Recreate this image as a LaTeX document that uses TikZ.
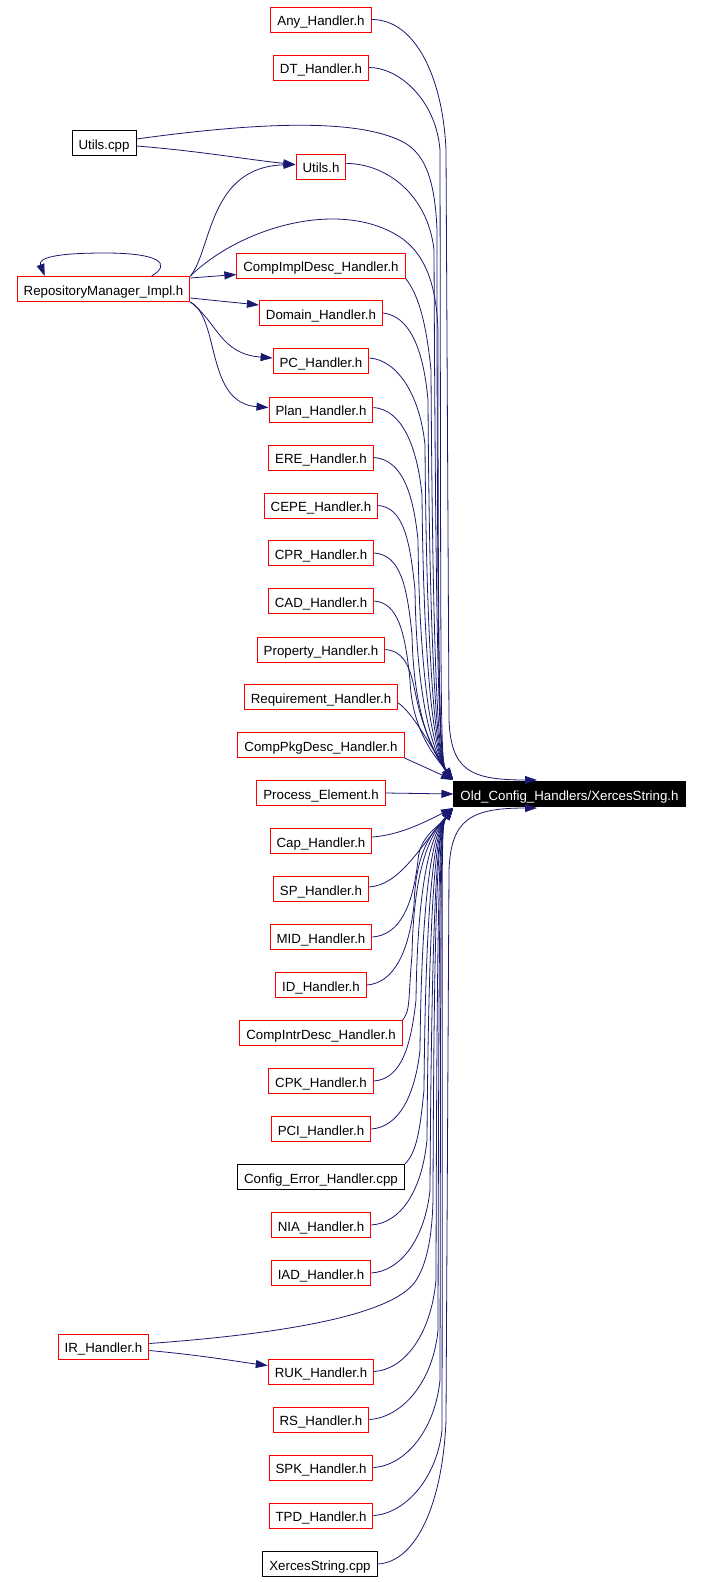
\documentclass[tikz,border=0pt]{standalone}
\usepackage{fontspec}
\setmainfont{Liberation Sans}
\usetikzlibrary{arrows.meta,calc}
\definecolor{edgeblue}{HTML}{191970}
\begin{document}
\begin{tikzpicture}[x=1pt,y=-1pt,
  box/.style={draw=red, fill=white, line width=1pt, inner xsep=6.5pt, inner ysep=3pt,
    minimum height=25pt, text height=12pt, text depth=0pt,
    font=\fontsize{13.3pt}{15pt}\selectfont},
  filebox/.style={box, draw=black},
  mainbox/.style={box, draw=black, fill=black, text=white},
  dep/.style={draw=edgeblue, line width=0.8pt, -{Triangle[length=12pt,width=8pt]}}]
\useasboundingbox (0,0) rectangle (702,1582);
% nodes
\node[box] (Any) at (321,19.5) {Any\_Handler.h};
\node[box] (DT) at (321,67.5) {DT\_Handler.h};
\node[filebox] (Ucpp) at (104,143) {Utils.cpp};
\node[box] (Uh) at (321,166.5) {Utils.h};
\node[box] (RM) at (103.5,289) {RepositoryManager\_Impl.h};
\node[box] (CID) at (321,265.5) {CompImplDesc\_Handler.h};
\node[box] (Dom) at (321,313) {Domain\_Handler.h};
\node[box] (PC) at (321,361) {PC\_Handler.h};
\node[box] (Plan) at (321,409.5) {Plan\_Handler.h};
\node[box] (ERE) at (321,457.5) {ERE\_Handler.h};
\node[box] (CEPE) at (321,505.5) {CEPE\_Handler.h};
\node[box] (CPR) at (321,553) {CPR\_Handler.h};
\node[box] (CAD) at (321,601) {CAD\_Handler.h};
\node[box] (Prop) at (321,649.5) {Property\_Handler.h};
\node[box] (Req) at (321,697) {Requirement\_Handler.h};
\node[box] (CPD) at (321,745) {CompPkgDesc\_Handler.h};
\node[box] (PE) at (321,793) {Process\_Element.h};
\node[mainbox] (XS) at (569.5,794) {Old\_Config\_Handlers/XercesString.h};
\node[box] (Cap) at (321,841) {Cap\_Handler.h};
\node[box] (SP) at (321,889) {SP\_Handler.h};
\node[box] (MID) at (321,937) {MID\_Handler.h};
\node[box] (ID) at (321,985) {ID\_Handler.h};
\node[box] (CIDD) at (321,1033) {CompIntrDesc\_Handler.h};
\node[box] (CPK) at (321,1081) {CPK\_Handler.h};
\node[box] (PCI) at (321,1129) {PCI\_Handler.h};
\node[filebox] (CEH) at (321,1177) {Config\_Error\_Handler.cpp};
\node[box] (NIA) at (321,1225) {NIA\_Handler.h};
\node[box] (IAD) at (321,1273) {IAD\_Handler.h};
\node[box] (IR) at (103.5,1346.5) {IR\_Handler.h};
\node[box] (RUK) at (321,1371.5) {RUK\_Handler.h};
\node[box] (RS) at (321,1419.5) {RS\_Handler.h};
\node[box] (SPK) at (321,1467.5) {SPK\_Handler.h};
\node[box] (TPD) at (321,1515.5) {TPD\_Handler.h};
\node[filebox] (XCpp) at (320,1564) {XercesString.cpp};
% tip coordinates
\coordinate (tT) at (453,780);
\coordinate (tB) at (453,808);
\coordinate (wT) at (537,780);
\coordinate (wB) at (537,808);
% edges into XercesString.h from above
\draw[dep] (Any.east) .. controls +(45,0) and (443,80) .. (446,150) -- (449,720) .. controls (451,770) and (470,780) .. (wT);
\draw[dep] (DT.east) .. controls +(30,0) and (436,100) .. (440,150) .. controls (441,720) and (440,762) .. (tT);
\draw[dep] ([yshift=4pt]Ucpp.east) .. controls (260,122) and (360,118) .. (405,143) .. controls (425,155) and (435,180) .. (437,230) .. controls (437,720) and (440,762) .. (tT);
\draw[dep] ([yshift=3pt]Uh.east) .. controls +(40,0) and (428,195) .. (434,250) .. controls (436,720) and (440,762) .. (tT);
\draw[dep] (RM.north east) .. controls (240,228) and (335,200) .. (395,234) .. controls (420,248) and (436,275) .. (438,330) .. controls (438,720) and (440,762) .. (tT);
\draw[dep] (CID.south east) .. controls +(12,15) and (426,320) .. (431,370) .. controls (433,720) and (440,762) .. (tT);
\draw[dep] (Dom.east) .. controls +(25,3) and (423,345) .. (428,400) .. controls (430,720) and (440,762) .. (tT);
\draw[dep] ([yshift=3pt]PC.east) .. controls +(28,2) and (420,395) .. (425,445) .. controls (427,720) and (440,762) .. (tT);
\draw[dep] ([yshift=2pt]Plan.east) .. controls +(28,2) and (417,445) .. (422,495) .. controls (424,720) and (440,762) .. (tT);
\draw[dep] (ERE.east) .. controls +(27,2) and (413,490) .. (418,540) .. controls (420,720) and (440,762) .. (tT);
\draw[dep] (CEPE.east) .. controls +(25,2) and (410,540) .. (415,590) .. controls (417,725) and (440,762) .. (tT);
\draw[dep] (CPR.east) .. controls +(26,2) and (407,585) .. (412,635) .. controls (414,730) and (440,762) .. (tT);
\draw[dep] (CAD.east) .. controls +(24,2) and (405,632) .. (410,680) .. controls (412,735) and (440,762) .. (tT);
\draw[dep] (Prop.east) .. controls +(25,2) and (412,680) .. (418,705) .. controls (425,735) and (441,765) .. (tT);
\draw[dep] ([yshift=-6pt]Req.east) .. controls (412,712) and (430,745) .. (tT);
\draw[dep] (CPD.south east) -- (tT);
\draw[dep] (PE.east) -- (XS.west);
% edges into XercesString.h from below
\draw[dep] ([yshift=4pt]Cap.east) .. controls (400,835) and (425,822) .. (tB);
\draw[dep] ([yshift=2pt]SP.east) .. controls +(30,-2) and (418,850) .. (tB);
\draw[dep] (MID.east) .. controls +(28,-2) and (413,905) .. (418,860) .. controls (420,835) and (440,826) .. (tB);
\draw[dep] (ID.east) .. controls +(28,-2) and (409,950) .. (414,905) .. controls (416,840) and (440,826) .. (tB);
\draw[dep] (CIDD.north east) .. controls +(8,-10) and (408,1000) .. (412,955) .. controls (414,845) and (440,826) .. (tB);
\draw[dep] (CPK.east) .. controls +(28,-2) and (411,1045) .. (416,1000) .. controls (418,845) and (440,826) .. (tB);
\draw[dep] (PCI.east) .. controls +(28,-2) and (415,1095) .. (420,1050) .. controls (422,845) and (440,826) .. (tB);
\draw[dep] (CEH.north east) .. controls +(12,-12) and (420,1130) .. (424,1090) .. controls (426,845) and (440,826) .. (tB);
\draw[dep] (NIA.east) .. controls +(30,-2) and (422,1190) .. (427,1140) .. controls (429,845) and (440,826) .. (tB);
\draw[dep] (IAD.east) .. controls +(30,-2) and (425,1238) .. (430,1190) .. controls (432,845) and (440,826) .. (tB);
\draw[dep] ([yshift=3pt]IR.east) .. controls (280,1334) and (390,1316) .. (415,1282) .. controls (426,1266) and (432,1240) .. (433,1200) .. controls (434,845) and (440,826) .. (tB);
\draw[dep] (RUK.east) .. controls +(30,-2) and (431,1335) .. (436,1280) .. controls (437,845) and (440,826) .. (tB);
\draw[dep] (RS.east) .. controls +(32,-2) and (433,1383) .. (438,1330) .. controls (439,845) and (440,826) .. (tB);
\draw[dep] (SPK.east) .. controls +(32,-2) and (435,1430) .. (440,1380) .. controls (441,845) and (440,826) .. (tB);
\draw[dep] (TPD.east) .. controls +(32,-2) and (437,1478) .. (442,1430) .. controls (443,845) and (440,826) .. (tB);
\draw[dep] (XCpp.east) .. controls +(40,-2) and (443,1500) .. (446,1420) -- (449,870) .. controls (451,820) and (470,808) .. (wB);
% other edges
\draw[dep] ([yshift=-3pt]Ucpp.east) .. controls (200,151) and (250,160) .. ([yshift=2pt]Uh.west);
\draw[dep] (RM.north east) .. controls (212,250) and (208,167) .. ([yshift=2pt]Uh.west);
\draw[dep] ([xshift=135pt]RM.north west) .. controls +(20,-12) and (160,253) .. (105,253) .. controls (55,253) and (38,258) .. ([xshift=28pt]RM.north west);
\draw[dep] ([yshift=11pt]RM.east) -- ([yshift=-9pt]CID.west);
\draw[dep] ([yshift=-9pt]RM.east) -- ([yshift=8pt]Dom.west);
\draw[dep] (RM.south east) .. controls +(27,20) and (220,354) .. ([yshift=3pt]PC.west);
\draw[dep] (RM.south east) .. controls +(30,16) and (205,403) .. ([yshift=2pt]Plan.west);
\draw[dep] ([yshift=-4pt]IR.east) .. controls +(55,5) and (240,1362) .. ([yshift=6pt]RUK.west);
\end{tikzpicture}
\end{document}
